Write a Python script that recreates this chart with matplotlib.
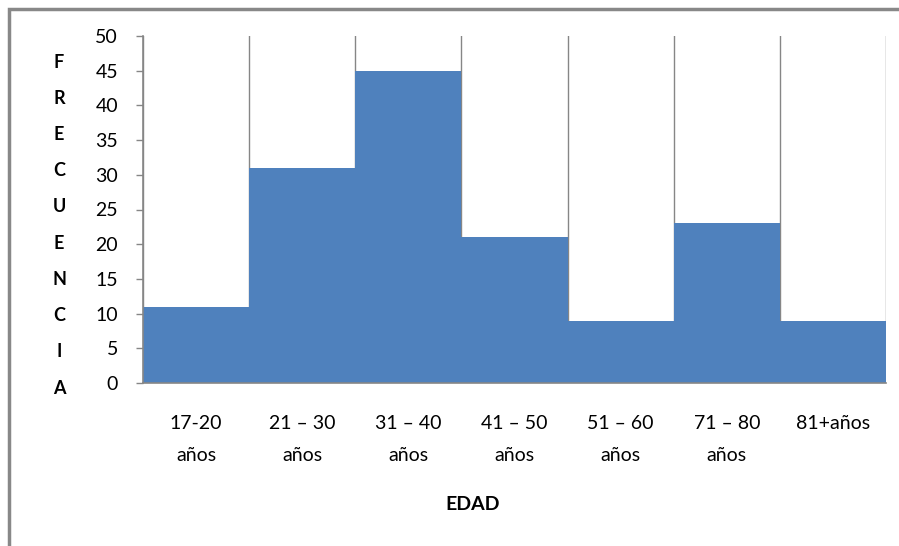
import numpy as np
import matplotlib
matplotlib.use("Agg")
import matplotlib.pyplot as plt
from matplotlib.patches import Rectangle

plt.rcParams['font.family'] = ['Lato', 'DejaVu Sans']

categories = ["17-20\naños", "21 \u2013 30\naños", "31 \u2013 40\naños", "41 \u2013 50\naños",
              "51 \u2013 60\naños", "71 \u2013 80\naños", "81+años"]
frecuencia = [11, 31, 45, 21, 9, 23, 9]
y_ticks = list(range(0, 55, 5))
y_label = "FRECUENCIA"
x_label = "EDAD"

bar_color = '#4F81BD'
grid_color = '#868686'

W, H = 899, 546
fig = plt.figure(figsize=(W / 100, H / 100), dpi=100)
ax = fig.add_axes([143 / W, 1 - 383 / H, (886 - 143) / W, (383 - 36) / H])

x = np.arange(len(categories))
ax.bar(x, frecuencia, width=1.0, color=bar_color, zorder=2)

ax.set_xlim(-0.5, len(categories) - 0.5)
ax.set_ylim(0, 50)
ax.set_yticks(y_ticks)
ax.tick_params(axis='y', length=5, width=1, color=grid_color, labelsize=14, pad=13)

ax.set_xticks(x)
ax.set_xticklabels(categories, fontsize=14, va='top')
for lbl in ax.get_xticklabels():
  lbl.set_linespacing(2.1)
ax.tick_params(axis='x', length=0, pad=23)

# vertical lines between categories
ax.set_xticks(np.arange(len(categories) + 1) - 0.5, minor=True)
ax.tick_params(axis='x', which='minor', length=0)
ax.grid(axis='x', which='minor', color=grid_color, linewidth=1, zorder=1)
ax.grid(axis='x', which='major', visible=False)
ax.set_axisbelow(True)

for side in ['top', 'right']:
  ax.spines[side].set_visible(False)
for side in ['left', 'bottom']:
  ax.spines[side].set_color(grid_color)
  ax.spines[side].set_linewidth(1.2)

# stacked vertical label
letters = list(y_label)
ys = np.linspace(62, 388, len(letters))
for letter, yy in zip(letters, ys):
  fig.text(59 / W, 1 - yy / H, letter, ha='center', va='center',
           fontsize=13, fontweight='bold')

fig.text(473 / W, 1 - 505 / H, x_label, ha='center', va='center',
         fontsize=14, fontweight='bold')

# outer frame
fig.patches.append(Rectangle((9 / W, -0.1), 1.2, 1 - 9 / H + 0.1,
                             transform=fig.transFigure, fill=False,
                             edgecolor='#888888', linewidth=2.5))

fig.savefig('out.png', dpi=100)
